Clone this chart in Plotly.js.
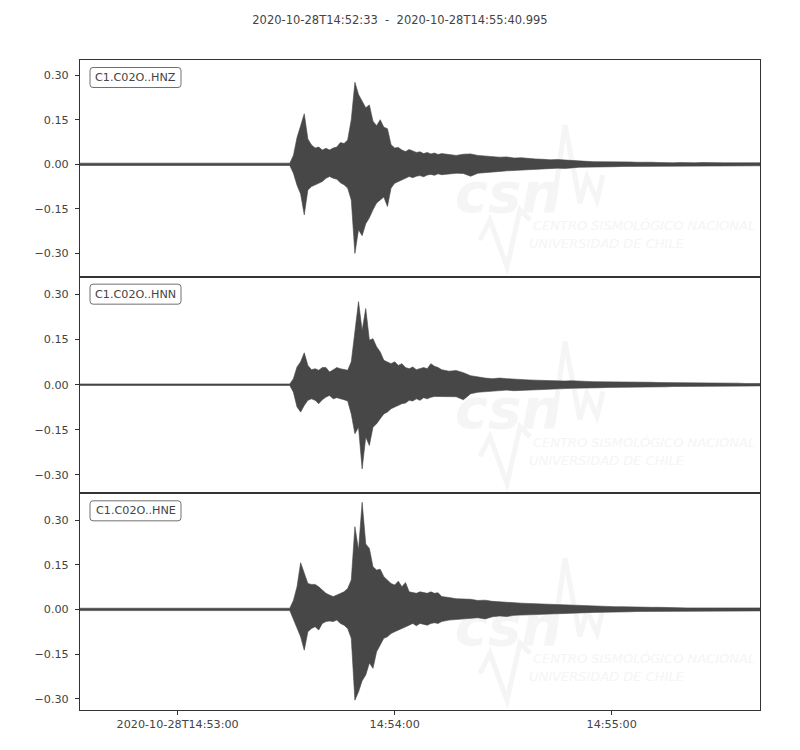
<!DOCTYPE html>
<html>
<head>
<meta charset="utf-8">
<script src="https://cdn.plot.ly/plotly-3.0.1.min.js"></script>
<style>html,body{margin:0;padding:0;background:#fff}</style>
</head>
<body>
<div id="chart" style="width:800px;height:750px"></div>
<script>
// ---------------- data ----------------
const TITLE_TEXT = '2020-10-28T14:52:33\u00a0\u00a0-\u00a0\u00a02020-10-28T14:55:40.995';
const CHANNELS = ['C1.C02O..HNZ', 'C1.C02O..HNN', 'C1.C02O..HNE'];

// seconds after 2020-10-28T14:52:33 at which the envelope was read
const SAMPLE_SECONDS = [0,
  58,59,60,61,62,63,64,65,66,67,68,69,70,71,72,73,74,75,76,77,78,79,80,81,82,83,84,85,86,87,88,89,90,91,92,93,94,95,96,97,98,99,100,
  102,104,106,108,110,112,114,116,118,120,122,124,126,128,130,132,134,136,138,140,142,144,146,148,150,152,154,156,158,160,
  162,164,166,168,170,172,174,176,178,180,182,184,186,188];

// upper / lower envelope of each trace
const HNZ_HI = [0.004, 0.004,
  0.03,0.09,0.13,0.17,0.085,0.065,0.055,0.058,0.048,0.054,0.048,0.055,0.058,0.073,0.07,0.082,0.15,0.276,0.235,0.21,0.19,0.2,0.145,0.13,0.15,0.125,0.12,0.066,0.055,0.057,0.048,0.043,0.05,0.045,0.04,0.042,0.036,0.04,0.035,0.038,0.033,0.036,
  0.033,0.03,0.034,0.035,0.03,0.028,0.027,0.024,0.025,0.021,0.022,0.019,0.018,0.017,0.015,0.016,0.014,0.013,0.011,0.01,0.009,0.009,0.01,0.008,0.009,0.008,0.007,0.008,0.007,0.006,
  0.005,0.005,0.006,0.005,0.005,0.006,0.005,0.005,0.005,0.005,0.005,0.005,0.005,0.005];
const HNZ_LO = [-0.004, -0.004,
  -0.03,-0.07,-0.1,-0.17,-0.086,-0.075,-0.07,-0.064,-0.058,-0.047,-0.041,-0.047,-0.05,-0.062,-0.069,-0.08,-0.12,-0.3,-0.22,-0.24,-0.2,-0.18,-0.153,-0.13,-0.12,-0.11,-0.142,-0.08,-0.064,-0.058,-0.053,-0.047,-0.041,-0.045,-0.04,-0.038,-0.042,-0.036,-0.034,-0.037,-0.032,-0.035,
  -0.032,-0.03,-0.031,-0.04,-0.03,-0.028,-0.026,-0.024,-0.022,-0.021,-0.02,-0.019,-0.016,-0.015,-0.014,-0.013,-0.014,-0.012,-0.01,-0.009,-0.009,-0.008,-0.008,-0.008,-0.007,-0.007,-0.007,-0.006,-0.006,-0.006,
  -0.005,-0.005,-0.005,-0.006,-0.005,-0.005,-0.005,-0.005,-0.006,-0.005,-0.005,-0.005,-0.005,-0.005];

const HNN_HI = [0.0025, 0.0025,
  0.02,0.059,0.076,0.106,0.064,0.05,0.053,0.048,0.057,0.057,0.042,0.05,0.057,0.053,0.05,0.048,0.076,0.17,0.276,0.18,0.253,0.148,0.153,0.126,0.109,0.081,0.076,0.07,0.076,0.064,0.07,0.057,0.053,0.059,0.05,0.053,0.057,0.053,0.07,0.061,0.057,0.05,
  0.045,0.047,0.04,0.03,0.025,0.022,0.02,0.022,0.02,0.018,0.017,0.016,0.015,0.014,0.015,0.013,0.012,0.013,0.011,0.011,0.01,0.01,0.009,0.01,0.009,0.009,0.008,0.008,0.008,0.007,
  0.007,0.006,0.006,0.006,0.006,0.005,0.005,0.005,0.005,0.005,0.005,0.004,0.004,0.004];
const HNN_LO = [-0.0025, -0.0025,
  -0.025,-0.074,-0.091,-0.069,-0.052,-0.047,-0.052,-0.063,-0.05,-0.041,-0.036,-0.047,-0.043,-0.047,-0.05,-0.054,-0.097,-0.163,-0.141,-0.28,-0.174,-0.202,-0.141,-0.13,-0.113,-0.097,-0.091,-0.08,-0.074,-0.069,-0.063,-0.061,-0.052,-0.054,-0.047,-0.052,-0.043,-0.047,-0.042,-0.039,-0.038,-0.039,
  -0.04,-0.04,-0.05,-0.03,-0.025,-0.024,-0.022,-0.02,-0.018,-0.02,-0.017,-0.018,-0.015,-0.016,-0.014,-0.014,-0.013,-0.012,-0.011,-0.012,-0.01,-0.01,-0.009,-0.009,-0.009,-0.008,-0.008,-0.008,-0.007,-0.007,
  -0.007,-0.006,-0.006,-0.006,-0.006,-0.005,-0.005,-0.005,-0.005,-0.005,-0.005,-0.004,-0.004,-0.004];

const HNE_HI = [0.004, 0.004,
  0.03,0.076,0.157,0.124,0.087,0.084,0.084,0.076,0.065,0.054,0.048,0.043,0.048,0.054,0.059,0.07,0.099,0.278,0.2,0.36,0.22,0.205,0.143,0.132,0.135,0.11,0.099,0.087,0.082,0.095,0.076,0.09,0.059,0.057,0.054,0.059,0.056,0.054,0.059,0.054,0.056,0.043,
  0.04,0.036,0.035,0.034,0.03,0.031,0.027,0.025,0.024,0.022,0.021,0.02,0.019,0.018,0.017,0.016,0.014,0.014,0.012,0.012,0.011,0.01,0.01,0.009,0.009,0.008,0.008,0.007,0.007,0.007,
  0.006,0.006,0.006,0.005,0.005,0.006,0.005,0.005,0.005,0.005,0.005,0.005,0.005,0.005];
const HNE_LO = [-0.004, -0.004,
  -0.03,-0.064,-0.092,-0.137,-0.075,-0.064,-0.058,-0.069,-0.047,-0.041,-0.039,-0.041,-0.036,-0.047,-0.053,-0.064,-0.097,-0.305,-0.277,-0.24,-0.22,-0.18,-0.198,-0.142,-0.12,-0.097,-0.092,-0.081,-0.075,-0.069,-0.064,-0.058,-0.053,-0.047,-0.055,-0.047,-0.05,-0.053,-0.047,-0.045,-0.047,-0.041,
  -0.036,-0.033,-0.03,-0.03,-0.028,-0.032,-0.025,-0.022,-0.024,-0.02,-0.021,-0.018,-0.019,-0.016,-0.016,-0.015,-0.013,-0.012,-0.012,-0.011,-0.01,-0.01,-0.009,-0.009,-0.008,-0.008,-0.007,-0.007,-0.007,-0.006,
  -0.006,-0.005,-0.006,-0.005,-0.005,-0.005,-0.006,-0.005,-0.005,-0.005,-0.005,-0.005,-0.005,-0.005];

const Y_TICK_VALUES = [-0.3, -0.15, 0, 0.15, 0.3];
const X_TICK_SECONDS = [27, 87, 147];
const X_TICK_LABELS = ['2020-10-28T14:53:00', '14:54:00', '14:55:00'];
const TRACE_END_SECONDS = 187.995;
const WATERMARK_TEXTS = ['csn', 'CENTRO SISMOLÓGICO NACIONAL', 'UNIVERSIDAD DE CHILE'];

// ---------------- chart ----------------
const ENVELOPES = [[HNZ_HI, HNZ_LO], [HNN_HI, HNN_LO], [HNE_HI, HNE_LO]];
const Y_RANGES = [[-0.378, 0.351], [-0.361, 0.359], [-0.338, 0.390]];
const DOMAINS = [[2/3, 1], [1/3, 2/3], [0, 1/3]];
const PLOT_W = 680, PLOT_H = 650;
const INK = '#474747';
const FONT = 'DejaVu Sans, sans-serif';
const WM = '#f5f5f5';

const traces = ENVELOPES.map(function (env, k) {
  const hi = env[0], lo = env[1];
  const xs = SAMPLE_SECONDS.concat(SAMPLE_SECONDS.slice().reverse());
  const ys = hi.concat(lo.slice().reverse());
  return {
    type: 'scatter', mode: 'lines', x: xs, y: ys,
    xaxis: k === 0 ? 'x' : 'x' + (k + 1), yaxis: k === 0 ? 'y' : 'y' + (k + 1),
    fill: 'toself', fillcolor: INK,
    line: {color: INK, width: 0.6},
    hoverinfo: 'skip', showlegend: false
  };
});

const layout = {
  width: 800, height: 750,
  margin: {l: 80, r: 40, t: 60, b: 40},
  paper_bgcolor: '#ffffff', plot_bgcolor: 'rgba(0,0,0,0)',
  showlegend: false,
  font: {family: FONT, size: 11.2, color: '#444444'},
  title: {text: TITLE_TEXT, xref: 'container', x: 0.5, xanchor: 'center',
          yref: 'container', y: 1 - 20 / 750, yanchor: 'middle',
          font: {family: FONT, size: 11.5, color: '#444444'}},
  annotations: [], shapes: []
};

function xAxisStyle(k) {
  const a = {
    domain: [0, 1], range: [0, TRACE_END_SECONDS], type: 'linear',
    anchor: k === 0 ? 'y' : 'y' + (k + 1),
    showline: true, mirror: true, linecolor: '#333333', linewidth: 1,
    showgrid: false, zeroline: false, fixedrange: true,
    tickmode: 'array', tickvals: X_TICK_SECONDS, ticktext: X_TICK_LABELS
  };
  if (k === 2) {
    a.ticks = 'outside'; a.ticklen = 4; a.tickwidth = 1; a.tickcolor = '#333333';
    a.showticklabels = true; a.tickfont = {family: FONT, size: 11.2, color: '#444444'};
  } else {
    a.ticks = ''; a.showticklabels = false; a.matches = 'x3';
  }
  return a;
}
function yAxisStyle(k) {
  return {
    domain: DOMAINS[k], range: Y_RANGES[k],
    anchor: k === 0 ? 'x' : 'x' + (k + 1),
    showline: true, mirror: true, linecolor: '#333333', linewidth: 1,
    showgrid: false, zeroline: false, fixedrange: true,
    tickmode: 'array', tickvals: Y_TICK_VALUES, tickformat: '.2f',
    ticks: 'outside', ticklen: 4, tickwidth: 1, tickcolor: '#333333',
    ticklabelstandoff: 4,
    tickfont: {family: FONT, size: 11.2, color: '#444444'}
  };
}

function pixelShape(top, extra) {
  return Object.assign({
    xref: 'paper', yref: 'paper', xsizemode: 'pixel', ysizemode: 'pixel',
    xanchor: 0, yanchor: top
  }, extra);
}
// rectangle given in pixels from the panel's top-left corner (down = positive)
function paperRect(top, px0, px1, py0, py1, extra) {
  return Object.assign({
    type: 'rect', xref: 'paper', yref: 'paper', layer: 'below',
    x0: px0 / PLOT_W, x1: px1 / PLOT_W,
    y0: top - py1 / PLOT_H, y1: top - py0 / PLOT_H,
    line: {width: 0}, fillcolor: 'rgba(0,0,0,0)'
  }, extra);
}

for (let k = 0; k < 3; k++) {
  const xs = k === 0 ? 'xaxis' : 'xaxis' + (k + 1);
  const ys = k === 0 ? 'yaxis' : 'yaxis' + (k + 1);
  layout[xs] = xAxisStyle(k);
  layout[ys] = yAxisStyle(k);
  const top = DOMAINS[k][1];

  // faint CSN watermark, drawn beneath the trace
  layout.shapes.push(paperRect(top, 372, 484, 106, 150, {
    label: {text: WATERMARK_TEXTS[0], textposition: 'middle center',
            font: {family: FONT, size: 56, color: WM, weight: 'bold', style: 'italic'}}
  }));
  layout.shapes.push(paperRect(top, 450, 690, 156, 173, {
    label: {text: WATERMARK_TEXTS[1], textposition: 'middle left', padding: 0,
            font: {family: FONT, size: 13, color: WM, style: 'italic'}}
  }));
  layout.shapes.push(paperRect(top, 446, 690, 174, 191, {
    label: {text: WATERMARK_TEXTS[2], textposition: 'middle left', padding: 0,
            font: {family: FONT, size: 13, color: WM, style: 'italic'}}
  }));
  layout.shapes.push(pixelShape(top, {
    type: 'path', layer: 'below',
    path: 'M 473,-147 L 485,-65 L 500,-143 L 507,-117 L 517,-140 L 523,-115',
    line: {color: WM, width: 5}
  }));
  layout.shapes.push(pixelShape(top, {
    type: 'path', layer: 'below',
    path: 'M 400,-180 L 410,-160 L 427,-207 L 440,-150 L 450,-160',
    line: {color: WM, width: 5}
  }));

  // channel label with rounded box
  layout.shapes.push(pixelShape(top, {
    type: 'path', layer: 'above',
    path: 'M 13,-7.5 L 98,-7.5 Q 101,-7.5 101,-10.5 L 101,-24.5 Q 101,-27.5 98,-27.5 L 13,-27.5 Q 10,-27.5 10,-24.5 L 10,-10.5 Q 10,-7.5 13,-7.5 Z',
    line: {color: '#707070', width: 1}, fillcolor: 'rgba(255,255,255,0.85)'
  }));
  layout.annotations.push({
    text: CHANNELS[k], xref: 'paper', yref: 'paper', x: 55.5 / 680, y: top,
    xanchor: 'center', yanchor: 'middle', yshift: -17.5, showarrow: false,
    font: {family: FONT, size: 11.2, color: '#444444'}
  });
}

Plotly.newPlot('chart', traces, layout, {staticPlot: true, displayModeBar: false});
</script>
</body>
</html>
